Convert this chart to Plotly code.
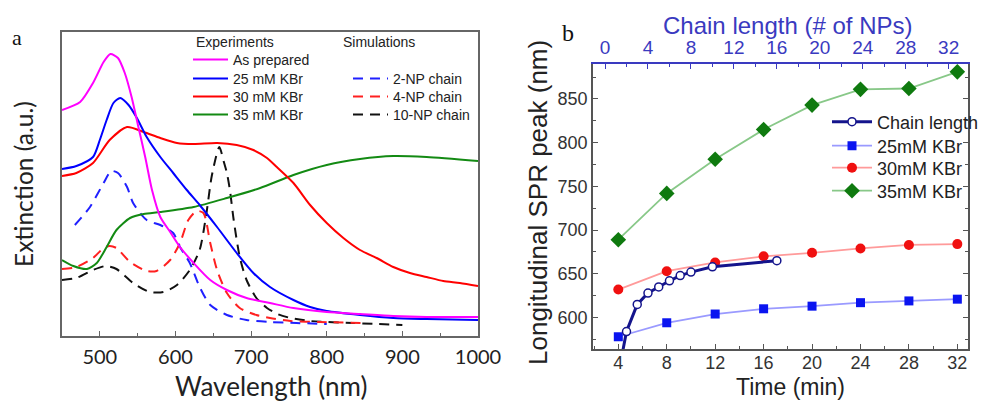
import plotly.graph_objects as go

W, H = 982, 401

# ---------------- Panel a: extinction spectra (arbitrary units) ----------------
wl_prep = [450, 474, 491, 505, 514, 524, 533, 542, 551, 560, 569, 580, 593, 606, 624, 646, 668, 694, 725, 756, 800, 844, 888, 932, 1000]
ext_prep = [226, 234, 253, 274, 282, 278, 263, 239, 209, 179, 146, 119, 104, 89, 73, 56, 46, 38, 33, 28, 24, 22, 20, 19, 19]

wl_25 = [450, 469, 491, 500, 509, 518, 527, 538, 549, 562, 580, 597, 615, 632, 655, 681, 703, 725, 756, 778, 800, 844, 888, 932, 1000]
ext_25 = [167, 170, 179, 196, 216, 233, 238, 231, 218, 199, 179, 163, 146, 131, 109, 83, 63, 49, 36, 29, 25, 21, 18, 17, 16]

wl_30 = [450, 469, 491, 513, 536, 558, 580, 602, 624, 655, 681, 703, 721, 734, 756, 778, 800, 822, 844, 866, 888, 910, 932, 954, 976, 1000]
ext_30 = [160, 163, 173, 196, 209, 204, 198, 193, 192, 193, 191, 186, 178, 169, 153, 131, 113, 98, 86, 78, 69, 63, 59, 55, 53, 50]

wl_35 = [450, 465, 483, 496, 509, 522, 540, 558, 580, 624, 668, 712, 756, 800, 844, 888, 932, 1000]
ext_35 = [76, 70, 67, 73, 89, 106, 118, 122, 124, 129, 138, 148, 161, 171, 177, 180, 179, 175]

wl_2np = [467, 487, 505, 515, 524, 536, 544, 562, 580, 597, 606, 619, 632, 646, 668, 694, 725, 760, 800]
ext_2np = [111, 129, 153, 165, 163, 149, 133, 116, 111, 103, 89, 73, 49, 31, 21, 16, 14, 13, 12]

wl_4np = [450, 469, 491, 505, 513, 522, 540, 562, 575, 593, 606, 617, 628, 637, 646, 655, 668, 685, 707, 725, 752, 791, 850]
ext_4np = [67, 69, 78, 88, 90, 88, 74, 65, 65, 76, 93, 116, 125, 123, 93, 66, 43, 28, 21, 18, 15, 14, 13]

wl_10np = [450, 469, 491, 508, 522, 544, 566, 584, 602, 619, 632, 641, 648, 658, 664, 668, 672, 677, 685, 694, 707, 721, 735, 752, 778, 835, 900]
ext_10np = [56, 58, 66, 70, 67, 53, 44, 44, 51, 66, 86, 123, 160, 189, 174, 163, 146, 116, 79, 56, 38, 28, 22, 18, 15, 13, 11]

wl_ticks = [500, 600, 700, 800, 900, 1000]

# ---------------- Panel b: longitudinal SPR peak ----------------
time_min = [4, 8, 12, 16, 20, 24, 28, 32]
spr_25 = [578, 594, 604, 610, 613, 617, 619, 621]
spr_30 = [632, 653, 663, 670, 674, 679, 683, 684]
spr_35 = [689, 742, 781, 815, 843, 861, 862, 881]
chain_n = [1, 2, 3, 4, 5, 6, 7, 8, 10, 16]
chain_spr = [520, 584, 615, 628, 635, 642, 648, 652, 658, 665]

fig = go.Figure()

SANS = "Liberation Sans, Arial, sans-serif"
CAL = "Lato, Open Sans, sans-serif"


def leg(xpx, ypx, size, itemwidth):
    return dict(x=xpx / W, y=1 - ypx / H, xanchor="left", yanchor="middle",
                bgcolor="rgba(0,0,0,0)", borderwidth=0,
                font=dict(family=SANS, size=size, color="#222"),
                itemwidth=itemwidth, tracegroupgap=0)


def spec(x, y, color, name, lg, dash="solid"):
    fig.add_trace(go.Scatter(x=x, y=y, mode="lines", name=name, legend=lg,
                             line=dict(color=color, width=2, dash=dash, shape="spline", smoothing=0.7),
                             xaxis="x", yaxis="y"))


DASH = "10px,7px"
spec(wl_10np, ext_10np, "#111111", "10-NP chain", "legend7", DASH)
spec(wl_4np, ext_4np, "#ff2020", "4-NP chain", "legend6", DASH)
spec(wl_2np, ext_2np, "#2020ff", "2-NP chain", "legend5", DASH)
spec(wl_35, ext_35, "#138a13", "35 mM KBr", "legend4")
spec(wl_30, ext_30, "#ff0000", "30 mM KBr", "legend3")
spec(wl_25, ext_25, "#0000ff", "25 mM KBr", "legend2")
spec(wl_prep, ext_prep, "#ff00ff", "As prepared", "legend")

# panel b traces
fig.add_trace(go.Scatter(x=time_min, y=spr_25, mode="lines+markers", name="25mM KBr", legend="legend9",
                         line=dict(color="#9a9aff", width=1.8),
                         marker=dict(symbol="square", size=9, color="#0a14f0"),
                         xaxis="x2", yaxis="y2"))
fig.add_trace(go.Scatter(x=time_min, y=spr_30, mode="lines+markers", name="30mM KBr", legend="legend10",
                         line=dict(color="#ff9a9a", width=1.8),
                         marker=dict(symbol="circle", size=10, color="#f01010"),
                         xaxis="x2", yaxis="y2"))
fig.add_trace(go.Scatter(x=time_min, y=spr_35, mode="lines+markers", name="35mM KBr", legend="legend11",
                         line=dict(color="#88c888", width=1.8),
                         marker=dict(symbol="diamond", size=12, color="#0f7a0f"),
                         xaxis="x2", yaxis="y2"))
fig.add_trace(go.Scatter(x=chain_n, y=chain_spr, mode="lines+markers", name="Chain length", legend="legend8",
                         line=dict(color="#14148c", width=3),
                         marker=dict(symbol="circle", size=8, color="white",
                                     line=dict(color="#14148c", width=1.5)),
                         xaxis="x3", yaxis="y2"))

frame_a = "#666666"
frame_b = "#555555"
blue_top = "#3a3ac0"

fig.update_layout(
    width=W, height=H, margin=dict(l=0, r=0, t=0, b=0, autoexpand=False), autosize=False,
    paper_bgcolor="white", plot_bgcolor="white",
    showlegend=True,
    xaxis=dict(domain=[62 / W, 478 / W], range=[450, 1000], anchor="y",
               showline=True, linecolor=frame_a, linewidth=1.5, mirror=True,
               showgrid=False, zeroline=False,
               tickmode="array", tickvals=wl_ticks,
               ticks="inside", ticklen=5, tickcolor=frame_a, tickwidth=1,
               minor=dict(dtick=50, tick0=450, ticks="inside", ticklen=3, tickcolor=frame_a),
               tickfont=dict(family=CAL, size=20, color="#222"), ticklabelstandoff=2),
    yaxis=dict(domain=[(H - 336) / H, (H - 32) / H], range=[0, 304], anchor="x",
               showline=True, linecolor=frame_a, linewidth=1.5, mirror=True,
               showgrid=False, zeroline=False, showticklabels=False, ticks=""),
    xaxis2=dict(domain=[593 / W, 968 / W], range=[1.91, 32.88], anchor="y2",
                showline=True, linecolor=frame_b, linewidth=1.5, mirror=False,
                showgrid=False, zeroline=False,
                tick0=4, dtick=4, ticks="inside", ticklen=5, tickcolor=frame_b,
                minor=dict(dtick=2, tick0=0, ticks="inside", ticklen=3, tickcolor=frame_b),
                tickfont=dict(family=SANS, size=18, color="#333"), ticklabelstandoff=-3),
    xaxis3=dict(overlaying="x2", side="top", range=[-1.12, 33.8], anchor="y2",
                showline=True, linecolor=blue_top, linewidth=2, showgrid=False, zeroline=False,
                tick0=0, dtick=4, ticks="inside", ticklen=5, tickcolor=blue_top,
                minor=dict(dtick=2, tick0=0, ticks="inside", ticklen=3, tickcolor=blue_top),
                tickfont=dict(family=SANS, size=19, color=blue_top)),
    yaxis2=dict(domain=[(H - 349) / H, (H - 64) / H], range=[564, 890], anchor="x2",
                showline=True, linecolor=frame_b, linewidth=1.5, mirror="ticks",
                showgrid=False, zeroline=False,
                tick0=600, dtick=50, ticks="inside", ticklen=5, tickcolor=frame_b,
                minor=dict(dtick=25, tick0=0, ticks="inside", ticklen=3, tickcolor=frame_b),
                tickfont=dict(family=SANS, size=18, color="#333")),
    legend=leg(188, 60, 14, 35),
    legend2=leg(188, 79, 14, 35),
    legend3=leg(188, 97, 14, 35),
    legend4=leg(188, 115, 14, 35),
    legend5=leg(348, 79, 14, 35),
    legend6=leg(348, 97, 14, 35),
    legend7=leg(348, 115, 14, 35),
    legend8=leg(827, 122, 18, 40),
    legend9=leg(827, 146, 18, 40),
    legend10=leg(827, 168, 18, 40),
    legend11=leg(827, 191, 18, 40),
)


def ann(text, xpx, ypx, size, family, color="#222", angle=0, xanchor="center"):
    fig.add_annotation(text=text, x=xpx / W, y=1 - ypx / H, xref="paper", yref="paper",
                       showarrow=False, textangle=angle, xanchor=xanchor, yanchor="middle",
                       font=dict(family=family, size=size, color=color))


ann("Experiments", 194, 42, 14, SANS, xanchor="left")
ann("Simulations", 341, 42, 14, SANS, xanchor="left")
ann("Extinction (a.u.)", 23, 184, 24.5, CAL, angle=-90)
ann("Wavelength (nm)", 271, 386, 26, CAL)
ann("Longitudinal SPR peak (nm)", 538, 203, 26, SANS, color="#222", angle=-90)
ann("Time (min)", 790, 387, 23, SANS, color="#222")
ann("Chain length (# of NPs)", 787, 25, 24, SANS, color=blue_top)
ann("a", 17, 37, 22, "Liberation Serif, DejaVu Serif, serif", color="#111")
ann("b", 568, 33, 24, "Liberation Serif, DejaVu Serif, serif", color="#111")

fig.write_html("out.html", config={"responsive": False, "displayModeBar": False},
               post_script="document.body.style.margin='0';document.body.style.overflow='hidden';")
